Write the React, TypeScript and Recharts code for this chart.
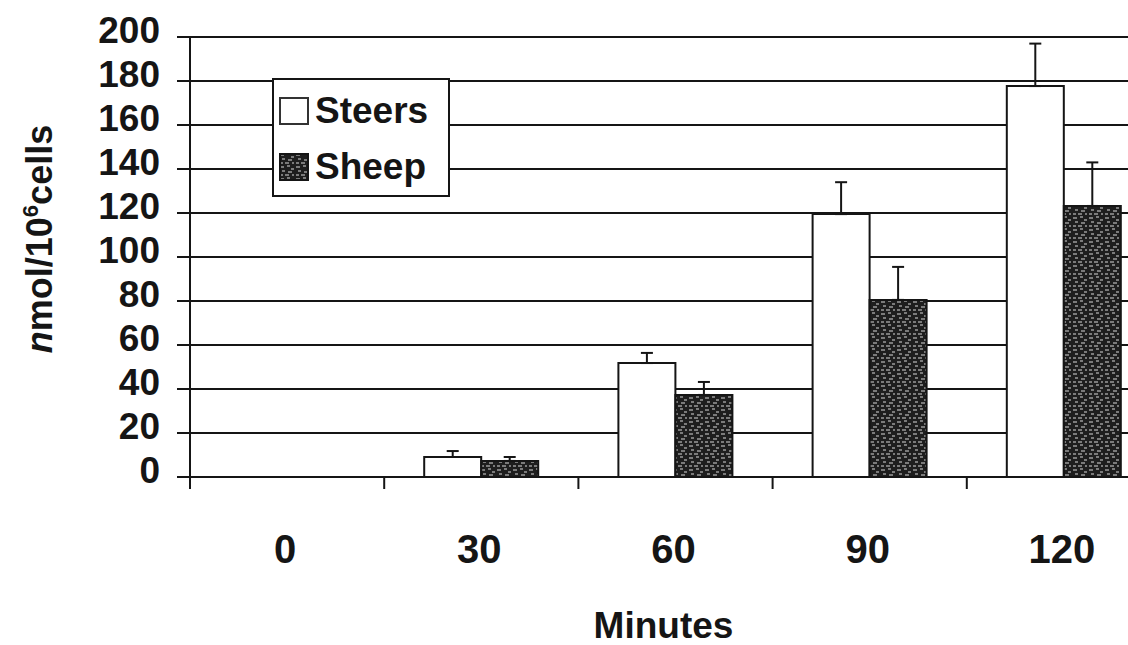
import React from 'react';
import { BarChart, Bar, XAxis, YAxis, CartesianGrid, ErrorBar, Legend } from 'recharts';

const categories = ['0', '30', '60', '90', '120'];
const steersValues = [0, 9.1, 51.8, 119.5, 177.7];
const sheepValues = [0, 7.3, 37.3, 80.5, 123.2];
const steersErrors: (number | null)[] = [null, 2.7, 4.6, 14.5, 19.3];
const sheepErrors: (number | null)[] = [null, 1.8, 5.9, 15, 19.8];
const yTicks = [0, 20, 40, 60, 80, 100, 120, 140, 160, 180, 200];

const data = categories.map((c, i) => ({
  minute: c,
  Steers: steersValues[i],
  Sheep: sheepValues[i],
  steersErr: steersErrors[i] == null ? null : [0, steersErrors[i]],
  sheepErr: sheepErrors[i] == null ? null : [0, sheepErrors[i]],
}));

const FONT = "'Liberation Sans', Arial, Helvetica, sans-serif";
const INK = '#151515';
const CHART_W = 1162;
const CHART_H = 645;
const Y_AXIS_W = 190;
const PLOT_W = CHART_W - Y_AXIS_W - 1;

const YTick = (props: any) => {
  const { x, y, payload } = props;
  return (
    <text x={x} y={y} dy={6} textAnchor="end" fontFamily={FONT} fontWeight="bold" fontSize={37} fill={INK}>
      {payload.value}
    </text>
  );
};

const XTick = (props: any) => {
  const { x, y, payload } = props;
  const half = payload && typeof payload.offset === 'number' && payload.offset > 0
    ? payload.offset
    : PLOT_W / categories.length / 2;
  const bx = x - half;
  return (
    <g>
      <line x1={bx} y1={y} x2={bx} y2={y + 12} stroke={INK} strokeWidth={2} />
      <text x={x - 2} y={y + 86} textAnchor="middle" fontFamily={FONT} fontWeight="bold" fontSize={40} fill={INK}>
        {payload.value}
      </text>
    </g>
  );
};

const YLabel = (props: any) => {
  const vb = props.viewBox || { x: 0, y: 37, width: Y_AXIS_W, height: 440 };
  const cx = vb.x + 52;
  const cy = vb.y + vb.height / 2 - 18;
  return (
    <text
      x={cx}
      y={cy}
      transform={`rotate(-90 ${cx} ${cy})`}
      textAnchor="middle"
      fontFamily={FONT}
      fontWeight="bold"
      fontSize={36}
      fill={INK}
    >
      <tspan fontStyle="italic">n</tspan>
      <tspan>mol/10</tspan>
      <tspan fontSize={22} dy={-14}>6</tspan>
      <tspan dy={14}>cells</tspan>
    </text>
  );
};

const XLabel = (props: any) => {
  const vb = props.viewBox || { x: Y_AXIS_W, y: 477, width: PLOT_W, height: 168 };
  const cx = vb.x + vb.width / 2 - 12;
  const cy = vb.y + 161;
  return (
    <text x={cx} y={cy} textAnchor="middle" fontFamily={FONT} fontWeight="bold" fontSize={37} fill={INK}>
      Minutes
    </text>
  );
};

const PatternSwatch = ({ w, h }: { w: number; h: number }) => (
  <svg width={w} height={h} style={{ display: 'block' }}>
    <defs>
      <pattern id="sheepLegendPattern" width="16" height="12" patternUnits="userSpaceOnUse">
        <rect width="16" height="12" fill="#1e1e1e" />
        <path d="M1 2h4 M8 1h3 M12 4h3 M3 6h3 M9 7h4 M1 10h3 M6 10h4 M13 10h2" stroke="#d8d8d8" strokeWidth="1.2" />
      </pattern>
    </defs>
    <rect x={1} y={1} width={w - 2} height={h - 2} fill="url(#sheepLegendPattern)" stroke={INK} strokeWidth={2} />
  </svg>
);

const LegendBox = () => (
  <div
    style={{
      width: 174,
      height: 112,
      border: `2px solid ${INK}`,
      background: '#fff',
      paddingTop: 3,
      boxSizing: 'content-box',
      fontFamily: FONT,
      fontWeight: 'bold',
      fontSize: 37,
      color: INK,
    }}
  >
    {[
      { name: 'Steers', swatch: (
        <svg width={30} height={28} style={{ display: 'block' }}>
          <rect x={1} y={1} width={28} height={26} fill="#fff" stroke="#333" strokeWidth={2} />
        </svg>
      ) },
      { name: 'Sheep', swatch: <PatternSwatch w={30} h={28} /> },
    ].map((item) => (
      <div key={item.name} style={{ display: 'flex', alignItems: 'center', height: 56, lineHeight: '56px', paddingLeft: 5 }}>
        <div style={{ marginRight: 6 }}>{item.swatch}</div>
        <span>{item.name}</span>
      </div>
    ))}
  </div>
);

export default function App() {
  return (
    <div style={{ position: 'absolute', left: 0, top: 0, width: 1128, height: 645, overflow: 'hidden', background: '#fff' }}>
      <BarChart
        width={CHART_W}
        height={CHART_H}
        data={data}
        margin={{ top: 37, right: 1, bottom: 0, left: 0 }}
        barCategoryGap="20.6%"
        barGap={0}
      >
        <defs>
          <pattern id="sheepPattern" width="16" height="12" patternUnits="userSpaceOnUse">
            <rect width="16" height="12" fill="#1e1e1e" />
            <path d="M1 2h4 M8 1h3 M12 4h3 M3 6h3 M9 7h4 M1 10h3 M6 10h4 M13 10h2" stroke="#d8d8d8" strokeWidth="1.2" />
          </pattern>
        </defs>
        <CartesianGrid vertical={false} stroke={INK} strokeWidth={2} strokeDasharray="" />
        <XAxis
          dataKey="minute"
          type="category"
          height={168}
          tickSize={0}
          tickMargin={0}
          tickLine={false}
          axisLine={{ stroke: INK, strokeWidth: 2 }}
          tick={<XTick />}
          interval={0}
          label={<XLabel />}
        />
        <YAxis
          width={Y_AXIS_W}
          domain={[0, 200]}
          ticks={yTicks}
          interval={0}
          tickSize={13}
          tickMargin={17}
          tickLine={{ stroke: INK, strokeWidth: 2 }}
          axisLine={{ stroke: INK, strokeWidth: 2 }}
          tick={<YTick />}
          label={<YLabel />}
        />
        <Legend
          layout="vertical"
          align="center"
          verticalAlign="middle"
          content={<LegendBox />}
          wrapperStyle={{ position: 'absolute', left: 272, top: 78, width: 'auto', height: 'auto' }}
        />
        <Bar dataKey="Steers" fill="#fff" stroke={INK} strokeWidth={2} isAnimationActive={false}>
          <ErrorBar dataKey="steersErr" direction="y" width={6} stroke={INK} strokeWidth={2} isAnimationActive={false} />
        </Bar>
        <Bar dataKey="Sheep" fill="url(#sheepPattern)" stroke={INK} strokeWidth={2} isAnimationActive={false}>
          <ErrorBar dataKey="sheepErr" direction="y" width={6} stroke={INK} strokeWidth={2} isAnimationActive={false} />
        </Bar>
      </BarChart>
    </div>
  );
}
